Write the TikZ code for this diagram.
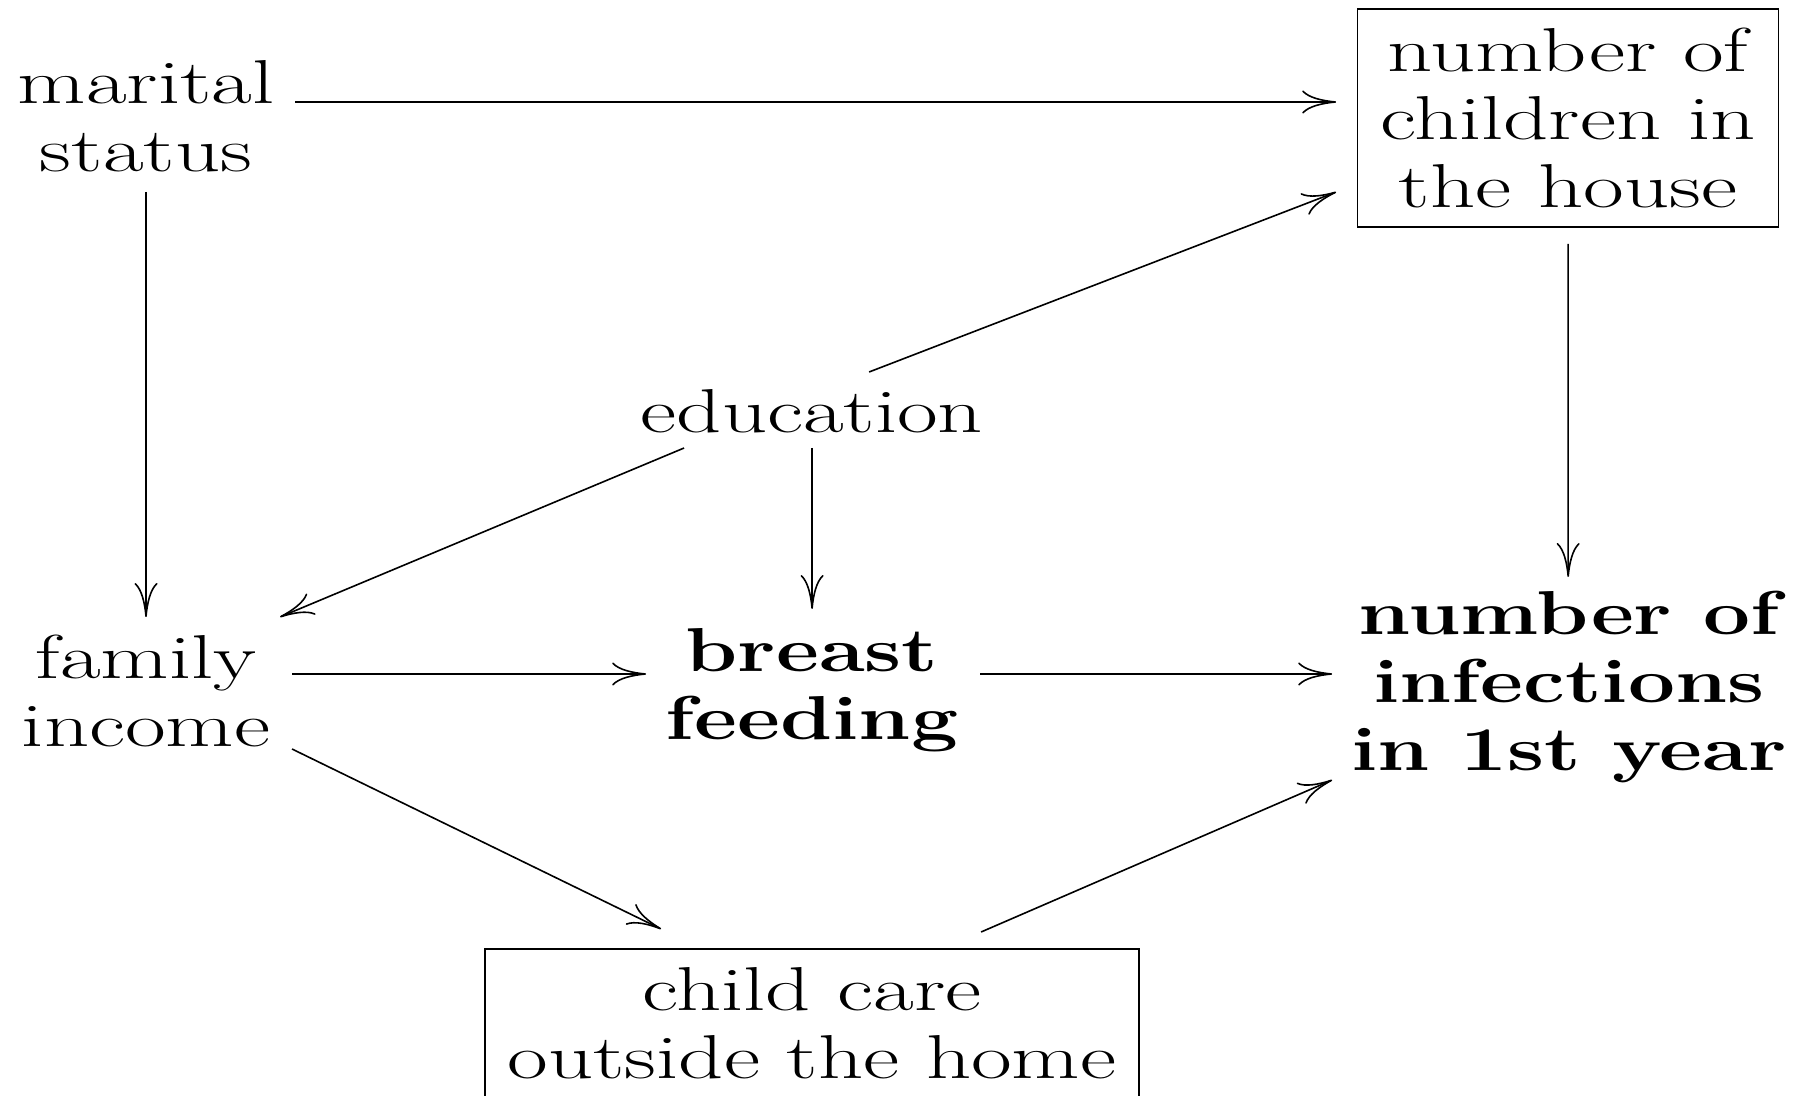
\documentclass[tikz,border=0pt]{standalone}
\usepackage{fontspec}
\setmainfont{Latin Modern Roman}
\newfontfamily\narrowlm[FakeStretch=0.944]{Latin Modern Roman}
\usetikzlibrary{arrows.meta,calc}
\begin{document}
\begin{tikzpicture}[x=0.350140pt, y=-0.5pt, xscale=1.428,
  every node/.append style={transform shape},
  lbl/.style={align=center, inner xsep=8pt, inner ysep=9.5pt, font=\fontsize{31}{34}\selectfont},
  boldlbl/.style={lbl, font=\narrowlm\fontsize{31}{34}\selectfont\bfseries},
  boxed/.style={lbl, draw, line width=0.8pt},
  arr/.style={line width=0.8pt, -{To[length=17pt,width=11.5pt]}}]
\path[use as bounding box, fill=white] (0,0) rectangle (1793,1096);
\node[lbl] (ms) at (146,116.5) {marital\\status};
\node[boxed] (ch) at (1568,118) {number of\\children in\\the house};
\node[lbl] (ed) at (812,411.5) {education};
\node[lbl] (fi) at (146,690.5) {family\\income};
\node[boldlbl] (bf) at (812,690.5) {breast\\feeding};
\node[boldlbl] (inf) at (1569,687) {number of\\infections\\in 1st year};
\node[boxed] (cc) at (812,1023.5) {child care\\outside the home};
\draw[arr] ($(ms)+(149,-14.5)$) -- ($(ch)+(-232,-16)$);
\draw[arr] ($(ms)+(0,75.5)$) -- ($(fi)+(0,-73.5)$);
\draw[arr] ($(ed)+(57,-39.5)$) -- ($(ch)+(-232,74)$);
\draw[arr] ($(ed)+(-128,36.5)$) -- ($(fi)+(134,-73.5)$);
\draw[arr] ($(ed)+(0,36.5)$) -- ($(bf)+(0,-81.5)$);
\draw[arr] ($(ch)+(0,126)$) -- ($(inf)+(-1,-110)$);
\draw[arr] ($(fi)+(146,-16.5)$) -- ($(bf)+(-166,-16.5)$);
\draw[arr] ($(bf)+(168,-16.5)$) -- ($(inf)+(-237,-13)$);
\draw[arr] ($(fi)+(146,58.5)$) -- ($(cc)+(-151,-94.5)$);
\draw[arr] ($(cc)+(169,-91.5)$) -- ($(inf)+(-237,93)$);
\end{tikzpicture}
\end{document}
